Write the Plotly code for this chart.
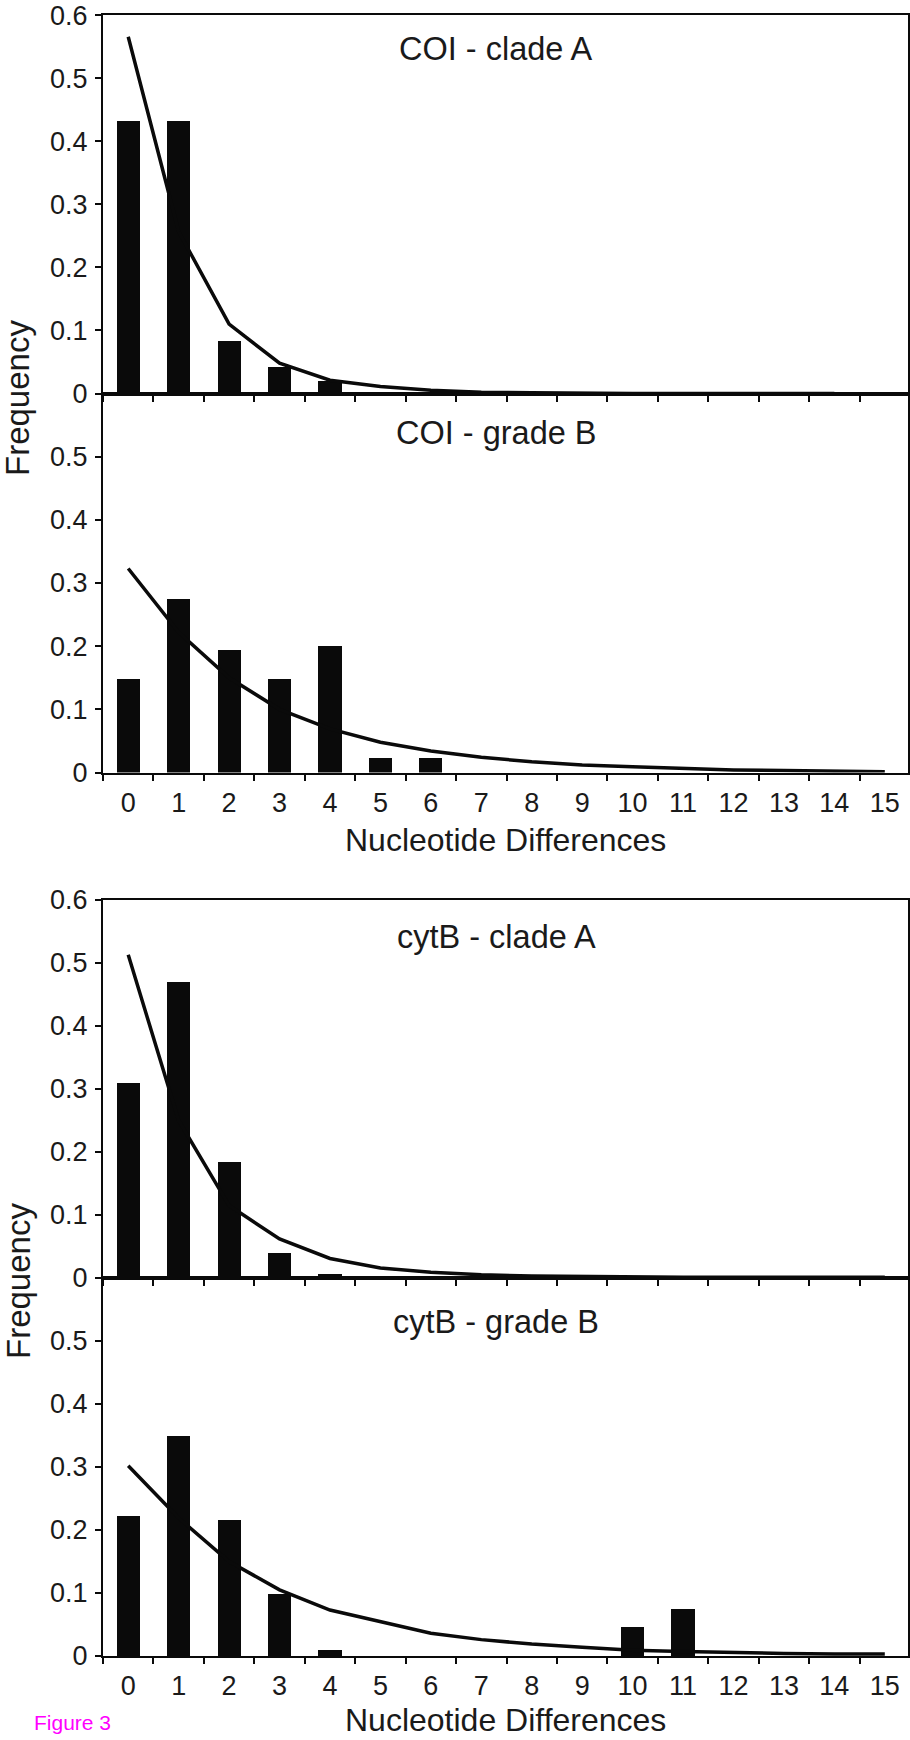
import plotly.graph_objects as go

# ---------------- data ----------------
categories = [str(i) for i in range(16)]
y_ticks = [0, 0.1, 0.2, 0.3, 0.4, 0.5, 0.6]
y_ticktext = ["0", "0.1", "0.2", "0.3", "0.4", "0.5", "0.6"]

coi_a_obs = [0.432, 0.432, 0.083, 0.041, 0.020, 0, 0, 0, 0, 0, 0, 0, 0, 0, 0, 0]
coi_a_exp = [0.566, 0.257, 0.110, 0.048, 0.021, 0.011, 0.005, 0.002, 0.001, 0, 0, 0, 0, 0, 0]

coi_b_obs = [0.149, 0.275, 0.194, 0.149, 0.201, 0.023, 0.023, 0, 0, 0, 0, 0, 0, 0, 0, 0]
coi_b_exp = [0.323, 0.222, 0.150, 0.100, 0.069, 0.048, 0.034, 0.024, 0.017, 0.012,
             0.009, 0.006, 0.004, 0.003, 0.002, 0.001]

cyt_a_obs = [0.309, 0.470, 0.184, 0.039, 0.006, 0, 0, 0, 0, 0, 0, 0, 0, 0, 0, 0]
cyt_a_exp = [0.513, 0.250, 0.115, 0.062, 0.031, 0.016, 0.009, 0.005, 0.003, 0.002,
             0.001, 0.001, 0.001, 0.001, 0.001, 0.001]

cyt_b_obs = [0.223, 0.349, 0.216, 0.098, 0.009, 0, 0, 0, 0, 0, 0.046, 0.075, 0, 0, 0, 0]
cyt_b_exp = [0.302, 0.219, 0.150, 0.105, 0.073, 0.054, 0.036, 0.026, 0.019, 0.014,
             0.009, 0.007, 0.005, 0.004, 0.003, 0.003]

panel_titles = ["COI - clade A", "COI - grade B", "cytB - clade A", "cytB - grade B"]
x_title = "Nucleotide Differences"
y_title = "Frequency"
fig_label = "Figure 3"

panels = [
    (coi_a_obs, coi_a_exp),
    (coi_b_obs, coi_b_exp),
    (cyt_a_obs, cyt_a_exp),
    (cyt_b_obs, cyt_b_exp),
]

# ---------------- layout geometry (pixels) ----------------
W, H = 910, 1740
DY = 2  # small downward shift so the top tick label is not clipped
x_left, x_right = 103, 907.5
panel_px = [(13.3, 391.5), (391.5, 770.5), (898, 1276), (1276, 1654)]  # (top, bottom)
title_y_px = [47, 431, 935, 1320]
ytitle_y_px = [396, 1279]

FONT = "Liberation Sans, Arial, Helvetica, sans-serif"
INK = "#0a0a0a"
TXT = "#1a1a1a"
TICK_SIZE = 27


def py(p):
    return 1 - (p + DY) / H


fig = go.Figure()

for i, (obs, exp) in enumerate(panels, start=1):
    xa = "x" if i == 1 else f"x{i}"
    ya = "y" if i == 1 else f"y{i}"
    fig.add_trace(go.Bar(x=categories, y=obs, width=0.46,
                         marker=dict(color=INK, line=dict(width=0)),
                         xaxis=xa, yaxis=ya, showlegend=False))
    fig.add_trace(go.Scatter(x=categories[:len(exp)], y=exp, mode="lines",
                             line=dict(color=INK, width=3.5),
                             xaxis=xa, yaxis=ya, showlegend=False))

layout = dict(
    width=W, height=H,
    margin=dict(l=0, r=0, t=0, b=0, autoexpand=False),
    paper_bgcolor="white", plot_bgcolor="white",
    font=dict(family=FONT, color=TXT),
    showlegend=False,
    bargap=0,
)

xdom = [x_left / W, x_right / W]
for i in range(1, 5):
    top, bot = panel_px[i - 1]
    ydom = [py(bot), py(top)]
    sfx = "" if i == 1 else str(i)
    show_xlabels = i in (2, 4)
    if i in (1, 3):
        tv, tt = y_ticks, y_ticktext
    else:
        tv, tt = y_ticks[:-1], y_ticktext[:-1]
    common_x = dict(
        domain=xdom, type="category", categoryorder="array",
        categoryarray=categories, range=[-0.5, 15.45],
        tickson="boundaries", showgrid=False, zeroline=False,
        tickcolor=INK, tickwidth=1.6, ticklen=6, automargin=False,
    )
    layout[f"xaxis{sfx}"] = dict(
        common_x, anchor=f"y{sfx}", ticks="outside",
        showline=True, linecolor=INK, linewidth=2, mirror=True,
        showticklabels=show_xlabels,
        tickfont=dict(size=TICK_SIZE, family=FONT, color=TXT),
        ticklabelstandoff=5, ticklabeloverflow="allow",
    )
    layout[f"yaxis{sfx}"] = dict(
        domain=ydom, anchor=f"x{sfx}", range=[0, 0.6],
        tickvals=tv, ticktext=tt, ticks="outside", ticklen=6,
        tickcolor=INK, tickwidth=1.6,
        showline=True, linecolor=INK, linewidth=2, mirror=True,
        showgrid=False, zeroline=False, automargin=False,
        tickfont=dict(size=TICK_SIZE, family=FONT, color=TXT),
        ticklabelstandoff=2, ticklabeloverflow="allow",
    )
    # overlay axes giving the inner half of the crossing tick marks
    layout[f"xaxis{i + 4}"] = dict(
        common_x, overlaying=f"x{sfx}", anchor=f"y{sfx}", side="bottom",
        ticks="inside", showline=False, showticklabels=False,
    )
    layout[f"yaxis{i + 4}"] = dict(
        overlaying=f"y{sfx}", anchor=f"x{sfx}", side="left", range=[0, 0.6],
        tickvals=tv, ticks="inside", ticklen=6, tickcolor=INK, tickwidth=1.6,
        showline=False, showticklabels=False, showgrid=False, zeroline=False,
        automargin=False,
    )

annotations = []
for t, yp in zip(panel_titles, title_y_px):
    annotations.append(dict(text=t, x=496.5 / W, y=py(yp), xref="paper", yref="paper",
                            xanchor="center", yanchor="middle", showarrow=False,
                            font=dict(size=32.5, family=FONT, color=TXT)))
# upper x-axis title
annotations.append(dict(text=x_title, x=505 / W, y=py(838), xref="paper", yref="paper",
                        xanchor="center", yanchor="middle", showarrow=False,
                        font=dict(size=32, family=FONT, color=TXT)))
# lower x-axis title, sitting on the bottom edge of the page
annotations.append(dict(text=x_title, x=505 / W, y=0, xref="paper", yref="paper",
                        xanchor="center", yanchor="bottom", showarrow=False,
                        font=dict(size=32, family=FONT, color=TXT)))
for yp in ytitle_y_px:
    annotations.append(dict(text=y_title, x=18 / W, y=py(yp), xref="paper", yref="paper",
                            xanchor="center", yanchor="middle", showarrow=False,
                            textangle=-90,
                            font=dict(size=33, family=FONT, color=TXT)))
annotations.append(dict(text=fig_label, x=32 / W, y=py(1720), xref="paper", yref="paper",
                        xanchor="left", yanchor="middle", showarrow=False,
                        font=dict(size=21, family=FONT, color="#ff00ff")))
layout["annotations"] = annotations

fig.update_layout(**layout)
fig.write_html(
    "out.html",
    config={"displayModeBar": False},
    post_script="document.body.style.margin='0';document.body.style.overflow='hidden';",
)
